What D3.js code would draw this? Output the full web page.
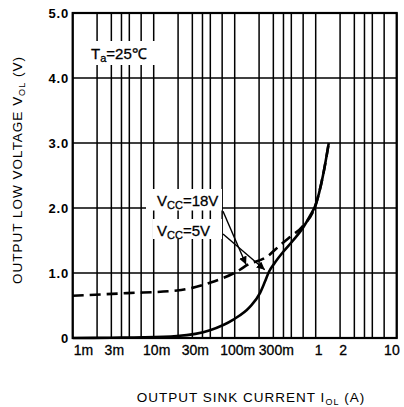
<!DOCTYPE html>
<html><head><meta charset="utf-8">
<script src="https://cdn.jsdelivr.net/npm/d3@7"></script>
<style>
html,body{margin:0;padding:0;background:#fff;}
svg{display:block;}
text{fill:#000;}
</style></head>
<body>
<svg id="c" width="404" height="407"></svg>
<script>
// ---- data ----
const yTicks = [0, 1, 2, 3, 4, 5];
const yTickLabels = ["0", "1.0", "2.0", "3.0", "4.0", "5.0"];
const xTickValues = [0.001, 0.003, 0.01, 0.03, 0.1, 0.3, 1, 2, 10];
const xTickLabels = ["1m", "3m", "10m", "30m", "100m", "300m", "1", "2", "10"];
const decades = [0.001, 0.01, 0.1, 1];
const gridMultipliers = [1, 2, 3, 4, 5, 7];
// Vcc = 5V (solid)
const solidI = [0.001, 0.003, 0.0074, 0.0194, 0.0495, 0.095, 0.154, 0.205, 0.235, 0.265, 0.31, 0.4, 0.525, 0.7, 0.85, 1.0, 1.23, 1.45];
const solidV = [0.0, 0.005, 0.01, 0.03, 0.12, 0.28, 0.48, 0.69, 0.86, 1.02, 1.15, 1.33, 1.5, 1.7, 1.88, 2.05, 2.5, 3.0];
// Vcc = 18V (dashed)
const dashI = [0.001, 0.0047, 0.0194, 0.0495, 0.116, 0.141, 0.25, 0.364, 0.477, 0.69, 1.0, 1.23, 1.45];
const dashV = [0.65, 0.69, 0.73, 0.85, 1.05, 1.12, 1.25, 1.43, 1.55, 1.72, 2.05, 2.5, 3.0];
// annotations [I, V]
const arrow18 = {from: [0.0717, 1.95], to: [0.138, 1.13]};
const arrow5 = {from: [0.0717, 1.6], to: [0.235, 1.05]};

// ---- layout ----
const svg = d3.select("#c");
const x = d3.scaleLog().domain([0.001, 10]).range([72.7, 396.7]);
const y = d3.scaleLinear().domain([0, 5]).range([338, 13]);
const X0 = x.range()[0], X1 = x.range()[1], Y0 = y.range()[0], Y1 = y.range()[1];

const gridX = [];
decades.forEach(d => gridMultipliers.forEach(m => gridX.push(d * m)));
gridX.push(10);

const g = svg.append("g");
g.selectAll("line.vg").data(gridX).join("line")
  .attr("x1", d => x(d)).attr("x2", d => x(d))
  .attr("y1", Y0).attr("y2", Y1)
  .attr("stroke", "#000").attr("stroke-width", 1.5);
g.selectAll("line.hg").data(yTicks.slice(1, 5)).join("line")
  .attr("x1", X0).attr("x2", X1)
  .attr("y1", d => y(d)).attr("y2", d => y(d))
  .attr("stroke", "#000").attr("stroke-width", 1.5);

// label backgrounds (white, cover grid)
const bg = svg.append("g").attr("fill", "#fff");
bg.append("rect").attr("x", 87).attr("y", 41).attr("width", 70).attr("height", 24);
bg.append("rect").attr("x", 146).attr("y", 189).attr("width", 76).attr("height", 21.5);
bg.append("rect").attr("x", 153).attr("y", 219).attr("width", 69).attr("height", 20);

// frame
svg.append("rect").attr("x", X0).attr("y", Y1).attr("width", X1 - X0).attr("height", Y0 - Y1)
  .attr("fill", "none").attr("stroke", "#000").attr("stroke-width", 2.2);

// curves
const line = d3.line().x(d => x(d[0])).y(d => y(d[1])).curve(d3.curveMonotoneX);
svg.append("path").datum(solidI.map((v, i) => [v, solidV[i]]))
  .attr("d", line).attr("fill", "none").attr("stroke", "#000").attr("stroke-width", 2.6);
svg.append("path").datum(dashI.map((v, i) => [v, dashV[i]]))
  .attr("d", line).attr("fill", "none").attr("stroke", "#000").attr("stroke-width", 2.6)
  .attr("stroke-dasharray", "11,6");

// arrows
svg.append("defs").append("marker").attr("id", "ah")
  .attr("viewBox", "0 0 10 10").attr("refX", 10).attr("refY", 5)
  .attr("markerWidth", 8).attr("markerHeight", 8).attr("markerUnits", "userSpaceOnUse")
  .attr("orient", "auto")
  .append("path").attr("d", "M0,0 L10,5 L0,10 z").attr("fill", "#000");
[arrow18, arrow5].forEach(a => {
  svg.append("line")
    .attr("x1", x(a.from[0])).attr("y1", y(a.from[1]))
    .attr("x2", x(a.to[0])).attr("y2", y(a.to[1]))
    .attr("stroke", "#000").attr("stroke-width", 1.4).attr("marker-end", "url(#ah)");
});

// tick labels
const tickFont = "'Liberation Sans Narrow', 'Liberation Sans', Arial, sans-serif";
svg.append("g").selectAll("text").data(yTicks).join("text")
  .attr("x", 69).attr("y", d => y(d)).attr("dy", "0.36em")
  .attr("text-anchor", "end")
  .style("font-family", "'Liberation Sans', Arial, sans-serif").style("font-size", "13px")
  .style("font-weight", "bold").style("letter-spacing", "0.8px")
  .text((d, i) => yTickLabels[i]);

svg.append("g").selectAll("text").data(xTickValues).join("text")
  .attr("x", (d, i) => i === 0 ? x(d) + 1 : x(d) + 3)
  .attr("y", 355)
  .attr("text-anchor", (d, i) => i === 0 ? "start" : (i === xTickValues.length - 1 ? "end" : "middle"))
  .style("font-family", tickFont).style("font-size", "14px")
  .style("stroke", "#000").style("stroke-width", "0.3px")
  .text((d, i) => xTickLabels[i]);

// axis titles
const titleFont = "'Liberation Sans', Arial, sans-serif";
const yt = svg.append("text")
  .attr("transform", "translate(22,170) rotate(-90)")
  .attr("text-anchor", "middle")
  .style("font-family", titleFont).style("font-size", "13.5px").style("letter-spacing", "1px");
yt.append("tspan").text("OUTPUT LOW VOLTAGE V");
yt.append("tspan").attr("dy", 3).style("font-size", "9px").text("OL");
yt.append("tspan").attr("dy", -3).text(" (V)");

const xt = svg.append("text")
  .attr("x", 251).attr("y", 402)
  .attr("text-anchor", "middle")
  .style("font-family", titleFont).style("font-size", "13.5px").style("letter-spacing", "1px");
xt.append("tspan").text("OUTPUT SINK CURRENT I");
xt.append("tspan").attr("dy", 3).style("font-size", "9px").text("OL");
xt.append("tspan").attr("dy", -3).text(" (A)");

// annotations
function sublabel(xp, yp, main, sub, rest) {
  const t = svg.append("text").attr("x", xp).attr("y", yp)
    .style("font-family", tickFont).style("font-size", "15px")
    .style("stroke", "#000").style("stroke-width", "0.3px");
  t.append("tspan").text(main);
  t.append("tspan").attr("dy", 3).style("font-size", "11px").text(sub);
  t.append("tspan").attr("dy", -3).text(rest);
}
sublabel(91, 59, "T", "a", "=25℃");
sublabel(157, 206, "V", "CC", "=18V");
sublabel(157, 236, "V", "CC", "=5V");
</script>
</body></html>
